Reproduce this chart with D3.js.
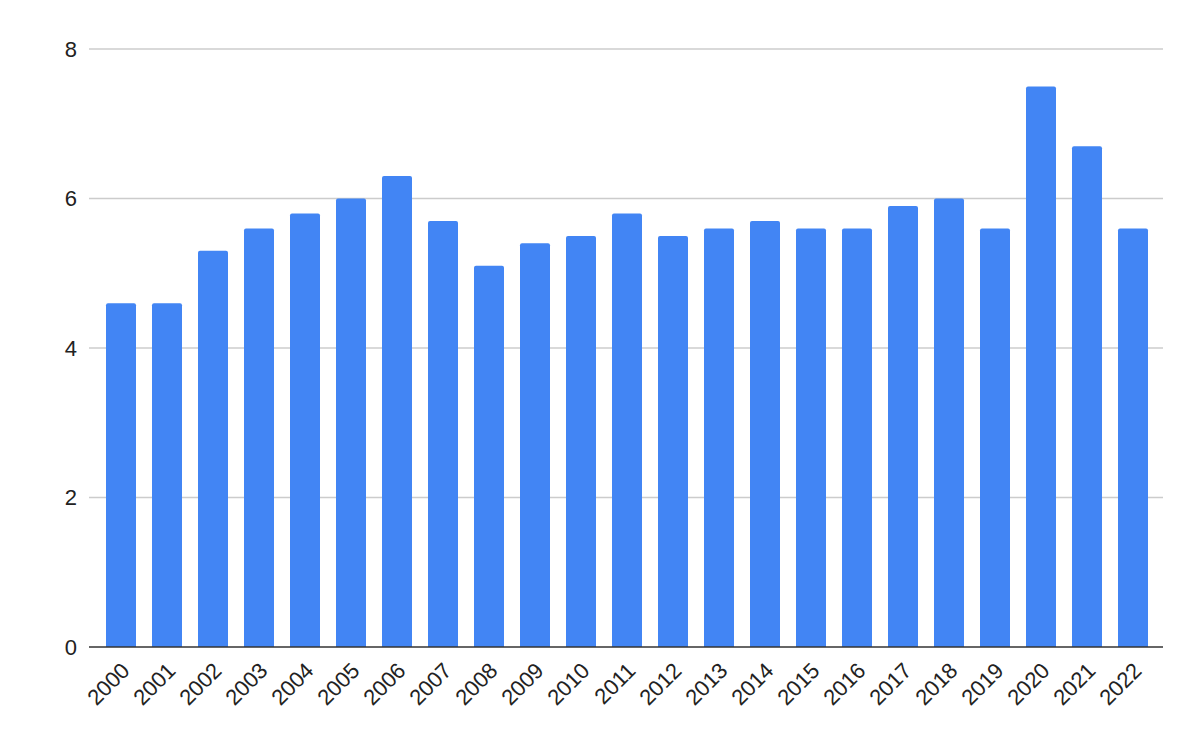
<!DOCTYPE html>
<html>
<head>
<meta charset="utf-8">
<script src="https://cdn.jsdelivr.net/npm/d3@7"></script>
<style>
    body { margin: 0; background: #fff; }
    text { font-family: Arial, "Liberation Sans", sans-serif; fill: #222; }
</style>
</head>
<body>
<div id="chart"></div>
<script>
const years = ["2000", "2001", "2002", "2003", "2004", "2005", "2006", "2007", "2008", "2009", "2010", "2011",
    "2012", "2013", "2014", "2015", "2016", "2017", "2018", "2019", "2020", "2021", "2022"];
const values = [4.6, 4.6, 5.3, 5.6, 5.8, 6.0, 6.3, 5.7, 5.1, 5.4, 5.5, 5.8,
    5.5, 5.6, 5.7, 5.6, 5.6, 5.9, 6.0, 5.6, 7.5, 6.7, 5.6];
const yTicks = [0, 2, 4, 6, 8];

const width = 1200, height = 742;
const plot = { left: 89, right: 1163, top: 49, bottom: 647 };

const svg = d3.select("#chart").append("svg")
    .attr("width", width)
    .attr("height", height);

const x = d3.scaleBand()
    .domain(years)
    .range([98, 1156])
    .paddingInner(16 / 46)
    .paddingOuter(8 / 46);

const y = d3.scaleLinear()
    .domain([0, 8])
    .range([plot.bottom, plot.top]);

// gridlines
svg.append("g")
    .selectAll("line")
    .data(yTicks.filter(t => t !== 0))
    .enter()
    .append("line")
    .attr("x1", plot.left)
    .attr("x2", plot.right)
    .attr("y1", d => y(d))
    .attr("y2", d => y(d))
    .attr("stroke", "#cccccc")
    .attr("stroke-width", 1.3);

// y labels
svg.append("g")
    .selectAll("text")
    .data(yTicks)
    .enter()
    .append("text")
    .attr("x", 77)
    .attr("y", d => y(d))
    .attr("dy", "0.35em")
    .attr("text-anchor", "end")
    .style("font-size", "22px")
    .text(d => d);

// bars, rounded only at the top
const r = 2;
const barPath = (d, i) => {
    const x0 = x(years[i]), w = x.bandwidth();
    const y0 = y(d), y1 = y(0);
    return `M${x0},${y1} V${y0 + r} Q${x0},${y0} ${x0 + r},${y0} H${x0 + w - r} Q${x0 + w},${y0} ${x0 + w},${y0 + r} V${y1} Z`;
};
svg.append("g")
    .selectAll("path")
    .data(values)
    .enter()
    .append("path")
    .attr("d", barPath)
    .attr("fill", "#4285f4");

// baseline
svg.append("line")
    .attr("x1", plot.left)
    .attr("x2", plot.right)
    .attr("y1", y(0))
    .attr("y2", y(0))
    .attr("stroke", "#333333")
    .attr("stroke-width", 1.6);

// x labels
svg.append("g")
    .selectAll("text")
    .data(years)
    .enter()
    .append("text")
    .attr("text-anchor", "end")
    .attr("transform", d => `translate(${x(d) + x.bandwidth() / 2 + 10},${672}) rotate(-45)`)
    .style("font-size", "22px")
    .text(d => d);
</script>
</body>
</html>
